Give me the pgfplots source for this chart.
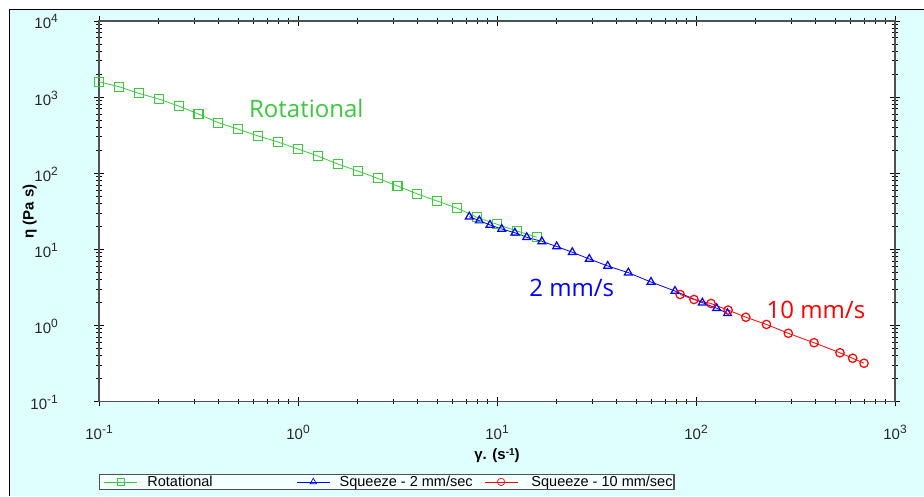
\documentclass[border=0pt]{standalone}
\usepackage{fontspec}
\setmainfont{Liberation Sans}
\newfontfamily\annfont{Open Sans}
\usepackage{pgfplots}
\pgfplotsset{compat=1.18}
\definecolor{bgcyan}{RGB}{223,255,255}
\definecolor{legbg}{RGB}{244,255,255}
\definecolor{rotgreen}{RGB}{60,200,60}
\definecolor{sqblue}{RGB}{0,0,255}
\definecolor{sqred}{RGB}{255,0,0}
\definecolor{axgray}{RGB}{80,80,80}
% tick label: 10 with a large raised exponent
\newcommand\tl[1]{10\raisebox{6pt}{\fontsize{12}{12}\selectfont #1}}

\begin{document}
\begin{tikzpicture}[x=1pt,y=1pt]
\useasboundingbox (0,0) rectangle (924,496);
\fill[white] (0,0) rectangle (924,496);
\fill[bgcyan] (9,0) rectangle (924,486);
\draw[black, line width=1pt] (9,0) -- (9,486) -- (924,486);
\begin{axis}[
  at={(99pt,94.5pt)}, anchor=south west,
  scale only axis, width=796pt, height=380.5pt,
  xmode=log, ymode=log,
  xmin=0.1, xmax=1000, ymin=0.1, ymax=10000,
  axis background/.style={fill=white},
  axis line style={axgray, line width=1.3pt},
  tick align=center,
  major tick length=10pt, minor tick length=6pt,
  every tick/.style={black, line width=0.8pt},
  xtick={0.1,1,10,100,1000},
  xticklabels={\tl{-1},\tl{0},\tl{1},\tl{2},\tl{3}},
  minor xtick={0.2,0.3,0.4,0.5,0.6,0.7,0.8,0.9,2,3,4,5,6,7,8,9,20,30,40,50,60,70,80,90,200,300,400,500,600,700,800,900},
  ytick={0.1,1,10,100,1000,10000},
  yticklabels={\tl{-1},\tl{0},\tl{1},\tl{2},\tl{3},\tl{4}},
  minor ytick={0.2,0.3,0.4,0.5,0.6,0.7,0.8,0.9,2,3,4,5,6,7,8,9,20,30,40,50,60,70,80,90,200,300,400,500,600,700,800,900,2000,3000,4000,5000,6000,7000,8000,9000},
  tick label style={font=\fontsize{15}{17}\selectfont, text=black!85},
  xticklabel style={anchor=base, inner sep=0pt, yshift=-33.5pt},
  yticklabel style={anchor=base east, inner sep=0pt, xshift=-36pt, yshift=-8pt},
  xlabel={γ. (s\raisebox{4pt}{\fontsize{10}{10}\selectfont -1})},
  ylabel={η (Pa s)},
  label style={font=\fontsize{15}{17}\selectfont\bfseries},
  xlabel style={at={(axis description cs:0.5,-0.142)}, anchor=center},
  ylabel style={at={(axis description cs:-0.087,0.5)}, anchor=center},
  clip=false,
  legend columns=3,
  legend style={at={(0,-0.19)}, anchor=north west, draw=axgray, line width=1.2pt,
    fill=legbg, font=\fontsize{14.5}{15}\selectfont, inner sep=1pt, row sep=0pt,
    nodes={inner sep=0.5pt}},
  legend cell align=left,
  legend image code/.code={\path (0pt,0pt); \draw[line width=0.8pt, mark size=3.7pt, mark repeat=2, mark phase=2, mark options={solid, line width=0.7pt}] plot coordinates {(3.5pt,0pt) (20pt,0pt) (36.5pt,0pt)};},
]
\addplot[rotgreen, line width=0.8pt, mark=square, mark size=4.5pt, mark options={solid, line width=1.2pt}] coordinates {
 (0.1,1592) (0.1259,1370) (0.1585,1122) (0.1995,944) (0.2512,764) (0.3162,600)
 (0.3981,461) (0.5012,378) (0.631,308) (0.7943,257) (1,208) (1.259,168)
 (1.585,132) (1.995,107) (2.512,85.7) (3.162,67.9) (3.981,53.3) (5.012,43.1)
 (6.31,34.6) (7.943,26.3) (10,21.3) (12.59,17.4) (15.85,14.4)
};
\addlegendentry{\makebox[154pt][l]{\hspace{9pt}Rotational}}
\addplot[sqblue, line width=0.8pt, mark=triangle, mark size=4.5pt, mark options={solid, line width=1.2pt}] coordinates {
 (7.26,26.8) (8.15,23.8) (9.22,20.9) (10.56,18.5) (12.3,16.5) (14.1,14.4)
 (16.8,12.7) (19.95,10.9) (23.9,9.14) (29.1,7.46) (36.0,6.04) (45.7,4.93)
 (59.4,3.72) (78.4,2.83) (107.6,1.99) (127,1.68) (144,1.44)
};
\addlegendentry{\makebox[149.5pt][l]{\hspace{9pt}Squeeze - 2 mm/sec}}
\addplot[sqred, line width=0.8pt, mark=o, mark size=4.2pt, mark options={solid, line width=1.2pt}] coordinates {
 (83.2,2.55) (97.7,2.19) (119,1.94) (145,1.59) (178,1.28) (226,1.03)
 (291,0.787) (392,0.592) (529,0.437) (613,0.370) (699,0.318)
};
\addlegendentry{\hspace{13pt}Squeeze - 10 mm/sec\hspace{7pt}}
\node[anchor=base west, inner sep=0pt, text=rotgreen, font=\annfont\fontsize{24}{28}\selectfont] at (axis cs:0.567,543) {Rotational};
\node[anchor=base west, inner sep=0pt, text=sqblue, font=\annfont\fontsize{24}{28}\selectfont] at (axis cs:14.5,2.38) {2 mm/s};
\node[anchor=base west, inner sep=0pt, text=sqred, font=\annfont\fontsize{24}{28}\selectfont] at (axis cs:226,1.24) {10 mm/s};
\end{axis}
\end{tikzpicture}
\end{document}
